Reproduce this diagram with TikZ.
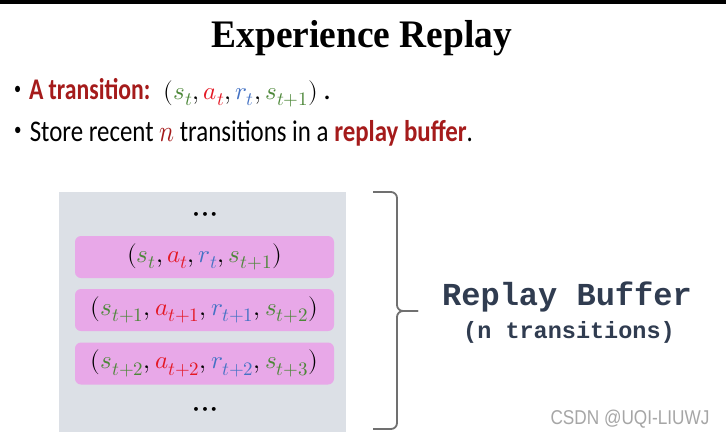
\documentclass[tikz,border=0pt]{standalone}
\usepackage{fontspec}
\usepackage{unicode-math}
\usepackage{graphicx}
\usepackage{tikz}
\usetikzlibrary{positioning}
\setmainfont{Carlito}
\setmathfont{Latin Modern Math}
\newfontfamily\titlefont{Liberation Serif}
\newfontfamily\bufferfont{Liberation Mono}
\newfontfamily\markfont{Liberation Sans}
\DeclareMathSizes{25}{25}{19}{15}
\definecolor{sgreen}{RGB}{76,135,56}
\definecolor{ared}{RGB}{228,24,36}
\definecolor{rblue}{RGB}{68,114,196}
\definecolor{deepred}{RGB}{165,27,27}
\definecolor{slate}{RGB}{48,60,80}
\definecolor{boxgray}{RGB}{220,224,230}
\definecolor{boxpink}{RGB}{232,168,232}
\definecolor{bracegray}{RGB}{112,112,112}
\newcommand{\narrow}[2][0.79]{\scalebox{#1}[1]{#2}}
\newcommand{\smallbullet}{\raisebox{0.18em}{\scalebox{0.6}{\textbullet}}\hspace{3pt}}
\newcommand{\dotrow}{\textbullet\hspace{3.5pt}\textbullet\hspace{3.5pt}\textbullet}
\newcommand{\Tr}[4]{{\fontsize{25}{30}\selectfont$(\textcolor{sgreen}{s_{#1}},\textcolor{ared}{a_{#2}},\textcolor{rblue}{r_{#3}},\textcolor{sgreen}{s_{#4}})$}}

\begin{document}
\begin{tikzpicture}[x=1pt,y=-1pt,
  line/.style={anchor=west,inner sep=0pt,font=\fontsize{30}{36}\selectfont},
  entry/.style={fill=boxpink,rounded corners=6pt,minimum width=259pt,minimum height=42pt,inner sep=0pt},
  dots/.style={inner sep=0pt,font=\fontsize{11}{12}\selectfont},
  brace/.style={draw=bracegray,line width=1.8pt,rounded corners=6pt}]
\useasboundingbox (0,0) rectangle (726,440);
\fill[white] (0,0) rectangle (726,440);
\fill[black] (0,0) rectangle (726,4);
\node[inner sep=0pt,font=\titlefont\bfseries\fontsize{39}{46}\selectfont] (title) at (362,38) {\narrow[0.96]{Experience Replay}};
\node[line] (transition) at (14,93) {\narrow{\smallbullet\ \textcolor{deepred}{\textbf{A transition:}}}\ \ \Tr{t}{t}{t}{t+1}\,.};
\node[line] (store) at (14,133) {\narrow[0.83]{\smallbullet\ Store recent \textcolor{deepred}{$n$} transitions in a \textcolor{deepred}{\textbf{replay buffer}}.}};
% the buffer
\fill[boxgray] (59,192) rectangle (346,432);
\node[dots] (topdots) at (205,215) {\dotrow};
\node[entry] (e0) at (204.5,257) {\Tr{t}{t}{t}{t+1}};
\node[entry] (e1) at (204.5,310) {\Tr{t+1}{t+1}{t+1}{t+2}};
\node[entry] (e2) at (204.5,363.5) {\Tr{t+2}{t+2}{t+2}{t+3}};
\node[dots] (botdots) at (205,410) {\dotrow};
% brace
\draw[brace] (373,192) -- (397,192) -- (397,311) -- (418,311);
\draw[brace] (418,311) -- (397,311) -- (397,429) -- (373,429);
\node[inner sep=0pt,text=slate,font=\bufferfont\bfseries\fontsize{32}{36}\selectfont] (buffer) at (567,297) {Replay Buffer};
\node[inner sep=0pt,text=slate,font=\bufferfont\bfseries\fontsize{23.5}{28}\selectfont] (size) at (569,332) {(n transitions)};
\node[inner sep=0pt,text=black!35,font=\markfont\fontsize{20}{24}\selectfont] (mark) at (630,419) {\narrow[0.86]{CSDN @UQI-LIUWJ}};
\end{tikzpicture}
\end{document}
